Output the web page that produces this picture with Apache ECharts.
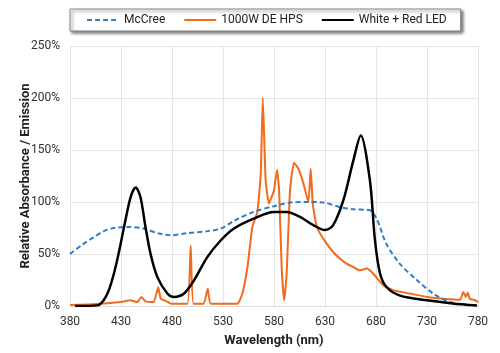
<!DOCTYPE html>
<html><head><meta charset="utf-8">
<script src="https://cdn.jsdelivr.net/npm/echarts@6/dist/echarts.min.js"></script>
<style>html,body{margin:0;padding:0;background:#fff}#c{width:500px;height:353px}</style>
</head><body><div id="c"></div>
<script>
const seriesNames = ['McCree', '1000W DE HPS', 'White + Red LED'];
const xTicks = [380, 430, 480, 530, 580, 630, 680, 730, 780];
const yTicks = [0, 50, 100, 150, 200, 250];

const mccreeWl  = [380, 392, 403, 413, 423, 436, 452, 466, 479, 495, 515, 528, 541, 560, 580, 596, 612, 628, 645, 658, 674, 681, 690, 703, 720, 736, 752, 765, 779];
const mccreeVal = [50, 59, 66, 72, 75, 76, 74.5, 70, 68, 70, 72, 74.5, 82, 90.5, 96, 99.5, 100, 99.5, 95, 93, 92, 83, 60, 41, 25, 12, 4, 1.5, 0];

const hpsWl  = [380, 403, 430, 439, 446, 450, 454, 462, 466.5, 469, 475, 479, 495, 498.3, 501, 511, 515, 518, 544, 549, 554, 558.8, 563.7, 567, 569, 571.8, 575, 577.7, 580, 583, 585, 587.5, 590, 592.4, 595.7, 599.6, 603.9, 608.8, 613.7, 616, 618, 622, 631.6, 641, 651, 657.8, 664, 670.8, 677.4, 687, 697, 713, 730, 749, 762.4, 765.6, 768, 770, 772, 777, 780];
const hpsVal = [1, 1.6, 3.8, 5.5, 3.8, 8.7, 4.5, 3.8, 18, 7, 4.5, 2.2, 2.2, 58, 2.2, 2.2, 16.7, 2.2, 2.2, 12, 37.5, 76, 90.5, 127, 200, 121, 98.5, 105, 111, 131, 111, 37.5, 5.5, 31, 111, 137.7, 132, 118, 100, 132, 98.5, 76, 60, 48.8, 40.8, 37.5, 34.3, 36, 31, 20, 15, 12, 8.7, 6.7, 6, 13.5, 8.7, 13, 7, 5.5, 3.8];

const ledWl  = [385, 407, 413, 418, 423, 428, 433, 439.5, 444.4, 449, 454, 459, 465.6, 475.4, 482, 491.8, 501.6, 514.6, 527.7, 540.8, 560, 580, 592.4, 605.5, 618.6, 630, 638, 648, 657.8, 665, 674, 679, 684, 690.5, 703.5, 730, 755, 779];
const ledVal = [0, 0.6, 5.5, 15, 31, 52, 76, 105, 114, 105, 76, 50, 28, 12, 8.7, 12, 24.7, 47, 63, 74.5, 84, 90.5, 90.5, 85.7, 77.7, 73, 77.7, 101.7, 140, 164, 121, 63, 31, 18, 10, 5.5, 2.5, 0.6];

const zip = (a, b) => a.map((v, i) => [v, b[i]]);
const font = 'Roboto, "Liberation Sans", sans-serif';

const chart = echarts.init(document.getElementById('c'), null, {renderer: 'canvas'});
chart.setOption({
  animation: false,
  backgroundColor: '#fff',
  grid: {left: 70, right: 22, top: 46, bottom: 47},
  legend: {
    left: 70, top: 9,
    data: seriesNames,
    itemWidth: 32, itemHeight: 10, itemGap: 18,
    padding: [5, 14, 5, 16],
    borderColor: '#888', borderWidth: 1,
    backgroundColor: '#fff',
    shadowColor: 'rgba(0,0,0,0.5)', shadowBlur: 3, shadowOffsetX: 2, shadowOffsetY: 2,
    itemStyle: {opacity: 0},
    textStyle: {fontFamily: font, fontSize: 12, color: '#222'}
  },
  xAxis: {
    type: 'value', min: xTicks[0], max: xTicks[xTicks.length - 1], interval: 50,
    name: 'Wavelength (nm)', nameLocation: 'middle', nameGap: 28,
    nameTextStyle: {fontFamily: font, fontSize: 13, fontWeight: 'bold', color: '#222'},
    axisLine: {show: true, lineStyle: {color: '#ddd'}},
    axisTick: {show: false},
    axisLabel: {fontFamily: font, fontSize: 12, color: '#333', margin: 10},
    splitLine: {show: true, lineStyle: {color: '#e4e4e4', width: 1}}
  },
  yAxis: {
    type: 'value', min: yTicks[0], max: yTicks[yTicks.length - 1], interval: 50,
    name: 'Relative Absorbance / Emission', nameLocation: 'middle', nameGap: 38,
    nameMoveOverlap: false,
    nameTextStyle: {fontFamily: font, fontSize: 13, fontWeight: 'bold', color: '#222'},
    axisLine: {show: false}, axisTick: {show: false},
    axisLabel: {fontFamily: font, fontSize: 12, color: '#333', margin: 10, formatter: '{value}%'},
    splitLine: {show: true, lineStyle: {color: '#e4e4e4', width: 1}}
  },
  series: [
    {name: seriesNames[0], type: 'line', symbol: 'none', smooth: 0.3, data: zip(mccreeWl, mccreeVal),
     z: 3, lineStyle: {color: '#2f7fc8', width: 2, type: [5, 3]}, itemStyle: {color: '#2f7fc8'}},
    {name: seriesNames[1], type: 'line', symbol: 'none', smooth: 0.15, data: zip(hpsWl, hpsVal),
     z: 2, lineStyle: {color: '#f26a1b', width: 2}, itemStyle: {color: '#f26a1b'}},
    {name: seriesNames[2], type: 'line', symbol: 'none', smooth: 0.3, data: zip(ledWl, ledVal),
     z: 4, lineStyle: {color: '#000', width: 2.5}, itemStyle: {color: '#000'}}
  ]
});
</script></body></html>
